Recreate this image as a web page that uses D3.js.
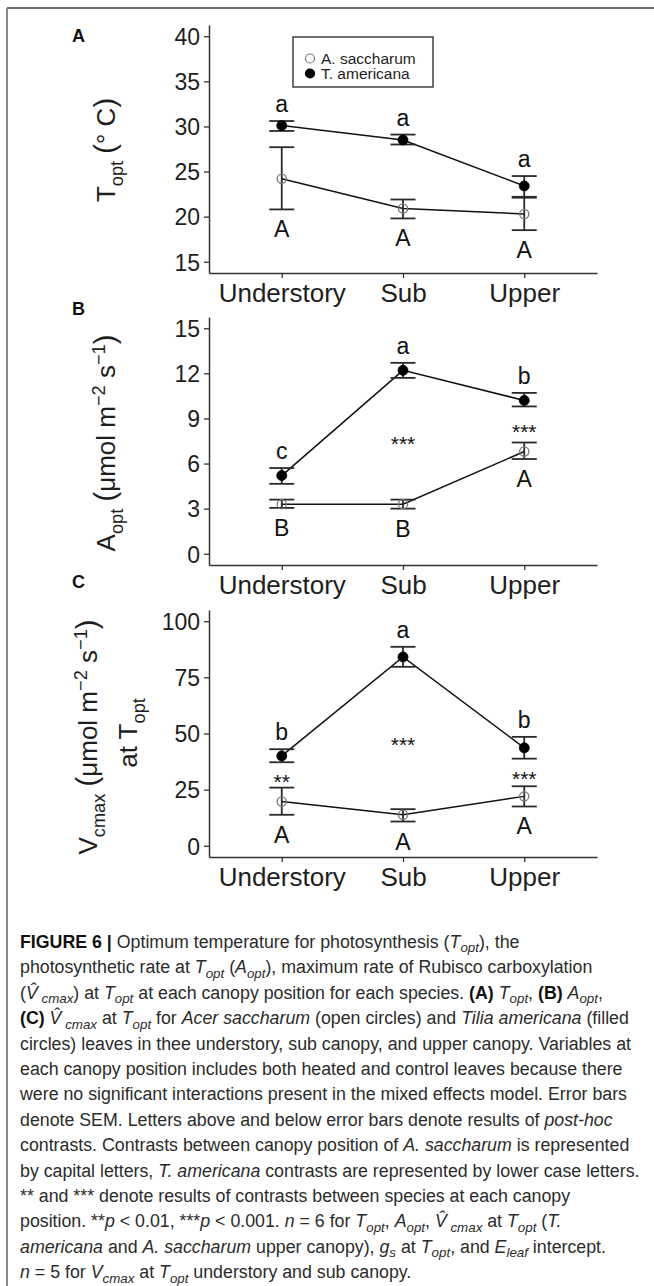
<!DOCTYPE html>
<html><head><meta charset="utf-8">
<script src="https://cdn.jsdelivr.net/npm/d3@7"></script>
<style>
body{margin:0;background:#fff}
svg{display:block}
text{font-family:"Liberation Sans",Arial,Helvetica,sans-serif;white-space:pre}
</style>
</head><body>
<svg id="chart" width="654" height="1286"></svg>
<script>
// ---------------- DATA ----------------
const categories = ["Understory", "Sub", "Upper"];
const legendLabels = ["A. saccharum", "T. americana"];

// Panel A: Topt (°C)
const toptSacc   = [24.2, 20.9, 20.3];
const toptSaccLo = [20.8, 19.8, 18.5];
const toptSaccHi = [27.7, 21.9, 22.1];
const toptAmer   = [30.1, 28.5, 23.4];
const toptAmerLo = [29.5, 28.0, 22.2];
const toptAmerHi = [30.6, 29.1, 24.5];
const toptAmerLetters = ["a", "a", "a"];
const toptSaccLetters = ["A", "A", "A"];
const toptStars  = ["", "", ""];
const toptStarY  = [null, null, null];
const toptTicks  = [15, 20, 25, 30, 35, 40];

// Panel B: Aopt
const aoptSacc   = [3.3, 3.3, 6.8];
const aoptSaccLo = [3.05, 3.0, 6.3];
const aoptSaccHi = [3.6, 3.6, 7.4];
const aoptAmer   = [5.2, 12.2, 10.2];
const aoptAmerLo = [4.65, 11.7, 9.8];
const aoptAmerHi = [5.7, 12.7, 10.7];
const aoptAmerLetters = ["c", "a", "b"];
const aoptSaccLetters = ["B", "B", "A"];
const aoptStars  = ["", "***", "***"];
const aoptStarY  = [null, 7.6, 8.4];
const aoptTicks  = [0, 3, 6, 9, 12, 15];

// Panel C: Vcmax at Topt
const vcSacc   = [19.7, 13.8, 22.0];
const vcSaccLo = [13.8, 10.8, 17.5];
const vcSaccHi = [25.9, 16.3, 26.5];
const vcAmer   = [40.0, 84.1, 43.6];
const vcAmerLo = [37.2, 79.7, 38.8];
const vcAmerHi = [43.0, 88.6, 48.5];
const vcAmerLetters = ["b", "a", "b"];
const vcSaccLetters = ["A", "A", "A"];
const vcStars  = ["**", "***", "***"];
const vcStarY  = [30.8, 47.1, 32.0];
const vcTicks  = [0, 25, 50, 75, 100];

// Caption (rich text segments: n normal, b bold, i italic, sub italic subscript)
const captionLines = [
  [["b","FIGURE 6 |"],["n"," Optimum temperature for photosynthesis ("],["i","T"],["sub","opt"],["n","), the"]],
  [["n","photosynthetic rate at "],["i","T"],["sub","opt"],["n"," ("],["i","A"],["sub","opt"],["n","), maximum rate of Rubisco carboxylation"]],
  [["n","("],["i","V\u0302"],["sub"," cmax"],["n",") at "],["i","T"],["sub","opt"],["n"," at each canopy position for each species. "],["b","(A)"],["n"," "],["i","T"],["sub","opt"],["n",", "],["b","(B)"],["n"," "],["i","A"],["sub","opt"],["n",","]],
  [["b","(C)"],["n"," "],["i","V\u0302"],["sub"," cmax"],["n"," at "],["i","T"],["sub","opt"],["n"," for "],["i","Acer saccharum"],["n"," (open circles) and "],["i","Tilia americana"],["n"," (filled"]],
  [["n","circles) leaves in thee understory, sub canopy, and upper canopy. Variables at"]],
  [["n","each canopy position includes both heated and control leaves because there"]],
  [["n","were no significant interactions present in the mixed effects model. Error bars"]],
  [["n","denote SEM. Letters above and below error bars denote results of "],["i","post-hoc"]],
  [["n","contrasts. Contrasts between canopy position of "],["i","A. saccharum"],["n"," is represented"]],
  [["n","by capital letters, "],["i","T. americana"],["n"," contrasts are represented by lower case letters."]],
  [["n","** and *** denote results of contrasts between species at each canopy"]],
  [["n","position. **"],["i","p"],["n"," < 0.01, ***"],["i","p"],["n"," < 0.001. "],["i","n"],["n"," = 6 for "],["i","T"],["sub","opt"],["n",", "],["i","A"],["sub","opt"],["n",", "],["i","V\u0302"],["sub"," cmax"],["n"," at "],["i","T"],["sub","opt"],["n"," ("],["i","T."]],
  [["i","americana"],["n"," and "],["i","A. saccharum"],["n"," upper canopy), "],["i","g"],["sub","s"],["n"," at "],["i","T"],["sub","opt"],["n",", and "],["i","E"],["sub","leaf"],["n"," intercept."]],
  [["i","n"],["n"," = 5 for "],["i","V"],["sub","cmax"],["n"," at "],["i","T"],["sub","opt"],["n"," understory and sub canopy."]]
];

// ---------------- LAYOUT ----------------
const svg = d3.select("#chart");
svg.append("rect").attr("width", 654).attr("height", 1286).attr("fill", "#fff");
// frame
svg.append("line").attr("x1", 7).attr("x2", 654).attr("y1", 8).attr("y2", 8).attr("stroke", "#6e6e6e").attr("stroke-width", 2);
svg.append("line").attr("x1", 7).attr("x2", 7).attr("y1", 8).attr("y2", 1286).attr("stroke", "#8a8a8a").attr("stroke-width", 2);

const plotLeft = 209, plotRight = 597;
const ink = "#1e1e1e";

const panels = [
  {tag:"A", tagY:42, top:25, bottom:273, domain:[13.75, 41.25], ticks:toptTicks,
   sacc:toptSacc, saccLo:toptSaccLo, saccHi:toptSaccHi, amer:toptAmer, amerLo:toptAmerLo, amerHi:toptAmerHi,
   amerLetters:toptAmerLetters, saccLetters:toptSaccLetters, stars:toptStars, starY:toptStarY, legend:true},
  {tag:"B", tagY:315, top:317, bottom:565, domain:[-0.75, 15.75], ticks:aoptTicks,
   sacc:aoptSacc, saccLo:aoptSaccLo, saccHi:aoptSaccHi, amer:aoptAmer, amerLo:aoptAmerLo, amerHi:aoptAmerHi,
   amerLetters:aoptAmerLetters, saccLetters:aoptSaccLetters, stars:aoptStars, starY:aoptStarY},
  {tag:"C", tagY:588, top:610, bottom:857, domain:[-5, 105], ticks:vcTicks,
   sacc:vcSacc, saccLo:vcSaccLo, saccHi:vcSaccHi, amer:vcAmer, amerLo:vcAmerLo, amerHi:vcAmerHi,
   amerLetters:vcAmerLetters, saccLetters:vcSaccLetters, stars:vcStars, starY:vcStarY}
];

const x = d3.scalePoint().domain(categories).range([plotLeft, plotRight]).padding(0.6);

panels.forEach(p => {
  const g = svg.append("g");
  const y = d3.scaleLinear().domain(p.domain).range([p.bottom, p.top]);

  // panel tag
  g.append("text").attr("x", 72).attr("y", p.tagY).attr("font-size", 18).attr("font-weight", "bold").attr("fill", "#111").text(p.tag);

  // axes
  const ya = g.append("g").attr("transform", `translate(${plotLeft},0)`)
    .call(d3.axisLeft(y).tickValues(p.ticks).tickSize(5).tickSizeOuter(0).tickPadding(4));
  const xa = g.append("g").attr("transform", `translate(0,${p.bottom})`)
    .call(d3.axisBottom(x).tickSize(5).tickSizeOuter(0).tickPadding(4));
  [ya, xa].forEach(a => {
    a.select(".domain").attr("stroke", "#333").attr("stroke-width", 1.5);
    a.selectAll(".tick line").attr("stroke", "#333").attr("stroke-width", 1.3);
    a.selectAll(".tick text").attr("fill", ink).attr("font-family", null);
  });
  ya.selectAll(".tick text").attr("font-size", 23).attr("dy", "0.36em");
  xa.selectAll(".tick text").attr("font-size", 26).attr("dy", "0.77em");

  const series = [
    {v:p.sacc, lo:p.saccLo, hi:p.saccHi, open:true},
    {v:p.amer, lo:p.amerLo, hi:p.amerHi, open:false}
  ];
  const line = d3.line().x((d, i) => x(categories[i])).y(d => y(d));
  series.forEach(s => {
    g.append("path").attr("d", line(s.v)).attr("fill", "none").attr("stroke", "#111").attr("stroke-width", 1.5);
  });
  series.forEach(s => {
    categories.forEach((c, i) => {
      const cx = x(c), w = 12.5;
      const eb = g.append("g").attr("stroke", "#2a2a2a").attr("stroke-width", 1.8);
      eb.append("line").attr("x1", cx).attr("x2", cx).attr("y1", y(s.lo[i])).attr("y2", y(s.hi[i]));
      eb.append("line").attr("x1", cx - w).attr("x2", cx + w).attr("y1", y(s.lo[i])).attr("y2", y(s.lo[i]));
      eb.append("line").attr("x1", cx - w).attr("x2", cx + w).attr("y1", y(s.hi[i])).attr("y2", y(s.hi[i]));
    });
  });
  series.forEach(s => {
    g.selectAll(null).data(s.v).enter().append("circle")
      .attr("cx", (d, i) => x(categories[i])).attr("cy", d => y(d)).attr("r", s.open ? 4.6 : 5)
      .attr("fill", s.open ? "none" : "#000").attr("stroke", s.open ? "#777" : "#000").attr("stroke-width", s.open ? 1.3 : 0.8);
  });

  // letters
  categories.forEach((c, i) => {
    g.append("text").attr("x", x(c)).attr("y", y(p.amerHi[i]) - 9).attr("text-anchor", "middle")
      .attr("font-size", 23).attr("fill", "#111").text(p.amerLetters[i]);
    g.append("text").attr("x", x(c)).attr("y", y(p.saccLo[i]) + 28).attr("text-anchor", "middle")
      .attr("font-size", 23).attr("fill", "#111").text(p.saccLetters[i]);
    if (p.stars[i]) {
      g.append("text").attr("x", x(c)).attr("y", y(p.starY[i]) + 12).attr("text-anchor", "middle")
        .attr("font-size", 21).attr("fill", "#111").text(p.stars[i]);
    }
  });

  if (p.legend) {
    const lg = g.append("g");
    lg.append("rect").attr("x", 293).attr("y", 37).attr("width", 140).attr("height", 50)
      .attr("fill", "#fff").attr("stroke", "#333").attr("stroke-width", 1.4);
    legendLabels.forEach((lab, k) => {
      const cy = 58.5 + k * 15;
      lg.append("circle").attr("cx", 310).attr("cy", cy).attr("r", 4.5)
        .attr("fill", k === 0 ? "none" : "#000").attr("stroke", k === 0 ? "#777" : "#000").attr("stroke-width", 1.2);
      lg.append("text").attr("x", 321).attr("y", cy + 5.5).attr("font-size", 15.5).attr("fill", ink).text(lab);
    });
  }
});

// axis titles (rotated)
function rotTitle(cx, cy, segs, fs) {
  const t = svg.append("text").attr("transform", `translate(${cx},${cy}) rotate(-90)`)
    .attr("text-anchor", "middle").attr("font-size", fs).attr("fill", ink);
  let shift = 0;
  segs.forEach(([s, txt]) => {
    const target = s === "sub" ? fs * 0.3 : s === "sup" ? -fs * 0.4 : 0;
    const ts = t.append("tspan").attr("dy", target - shift).text(txt);
    shift = target;
    if (s === "sub" || s === "sup") ts.attr("font-size", fs * 0.7);
    if (s === "big") ts.attr("font-size", fs * 1.12);
  });
}
rotTitle(115, 150, [["n","T"],["sub","opt"],["n"," "],["big","("],["n","\u00B0 C"],["big",")"]], 26);
rotTitle(115, 443, [["n","A"],["sub","opt"],["n"," "],["big","("],["n","\u03BCmol m"],["sup","\u22122"],["n"," s"],["sup","\u22121"],["big",")"]], 26);
rotTitle(97, 737, [["n","V"],["sub","cmax"],["n"," "],["big","("],["n","\u03BCmol m"],["sup","\u22122"],["n"," s"],["sup","\u22121"],["big",")"]], 26);
rotTitle(137, 733, [["n","at T"],["sub","opt"]], 26);

// caption
const capG = svg.append("g");
const capTop = 948, capLH = 25.4;
function drawCaption(fs) {
  capG.selectAll("*").remove();
  captionLines.forEach((segs, i) => {
    const t = capG.append("text").attr("x", 20).attr("y", capTop + i * capLH)
      .attr("font-size", fs).attr("fill", "#2b2b2b");
    let shift = 0;
    segs.forEach(([s, txt]) => {
      const target = s === "sub" ? fs * 0.25 : 0;
      const ts = t.append("tspan").attr("dy", target - shift).text(txt);
      shift = target;
      if (s === "b") ts.attr("font-weight", "bold").attr("fill", "#111");
      if (s === "i" || s === "sub") ts.attr("font-style", "italic");
      if (s === "sub") ts.attr("font-size", fs * 0.75);
    });
  });
}
drawCaption(17);
const w10 = capG.selectAll("text").nodes()[9].getComputedTextLength();
drawCaption(17 * 620 / w10);
</script>
</body></html>
